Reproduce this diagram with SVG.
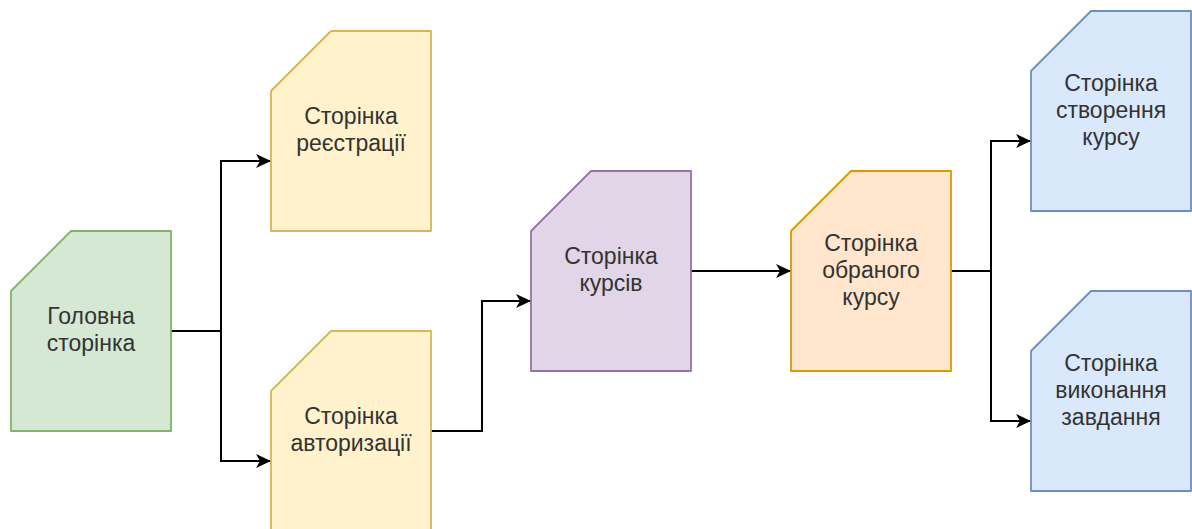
<svg xmlns="http://www.w3.org/2000/svg" width="1192" height="529" viewBox="0 0 1192 529">
  <style>
    .card { stroke-width: 1.8; stroke-linejoin: round; }
    .green { fill: #d5e8d4; stroke: #82b366; }
    .yellow { fill: #fff2cc; stroke: #d6b656; }
    .purple { fill: #e1d5e7; stroke: #9673a6; }
    .orange { fill: #ffe6cc; stroke: #d79b00; }
    .blue { fill: #dae8fc; stroke: #6c8ebf; }
    .label { font-family: "Liberation Sans", Arial, Helvetica, sans-serif; font-size: 23px; fill: #333333; text-anchor: middle; }
    .edge { fill: none; stroke: #000000; stroke-width: 2; marker-end: url(#arrow); }
  </style>
  <defs>
    <marker id="arrow" markerUnits="userSpaceOnUse" markerWidth="17" markerHeight="15" refX="15" refY="7" orient="auto">
      <path d="M0,0 L15,7 L0,14 L4,7 Z" fill="#000000"/>
    </marker>
  </defs>

  <rect width="1192" height="529" fill="#ffffff"/>

  <g id="connectors">
    <path class="edge" d="M171,331 H221 V161 H271"/>
    <path class="edge" d="M171,331 H221 V461 H271"/>
    <path class="edge" d="M431,431 H482 V301 H531"/>
    <path class="edge" d="M691,271 H791"/>
    <path class="edge" d="M951,271 H991 V141 H1031"/>
    <path class="edge" d="M951,271 H991 V421 H1031"/>
  </g>

  <g id="main-page">
    <path class="card green" d="M71,231 H171 V431 H11 V291 Z"/>
    <text class="label" x="91" y="324">Головна</text>
    <text class="label" x="91" y="351">сторінка</text>
  </g>

  <g id="registration-page">
    <path class="card yellow" d="M331,31 H431 V231 H271 V91 Z"/>
    <text class="label" x="351" y="124">Сторінка</text>
    <text class="label" x="351" y="151">реєстрації</text>
  </g>

  <g id="login-page">
    <path class="card yellow" d="M331,331 H431 V531 H271 V391 Z"/>
    <text class="label" x="351" y="424">Сторінка</text>
    <text class="label" x="351" y="451">авторизації</text>
  </g>

  <g id="courses-page">
    <path class="card purple" d="M591,171 H691 V371 H531 V231 Z"/>
    <text class="label" x="611" y="264">Сторінка</text>
    <text class="label" x="611" y="291">курсів</text>
  </g>

  <g id="selected-course-page">
    <path class="card orange" d="M851,171 H951 V371 H791 V231 Z"/>
    <text class="label" x="871" y="251">Сторінка</text>
    <text class="label" x="871" y="278">обраного</text>
    <text class="label" x="871" y="305">курсу</text>
  </g>

  <g id="create-course-page">
    <path class="card blue" d="M1091,11 H1191 V211 H1031 V71 Z"/>
    <text class="label" x="1111" y="91">Сторінка</text>
    <text class="label" x="1111" y="118">створення</text>
    <text class="label" x="1111" y="145">курсу</text>
  </g>

  <g id="task-page">
    <path class="card blue" d="M1091,291 H1191 V491 H1031 V351 Z"/>
    <text class="label" x="1111" y="371">Сторінка</text>
    <text class="label" x="1111" y="398">виконання</text>
    <text class="label" x="1111" y="425">завдання</text>
  </g>
</svg>
